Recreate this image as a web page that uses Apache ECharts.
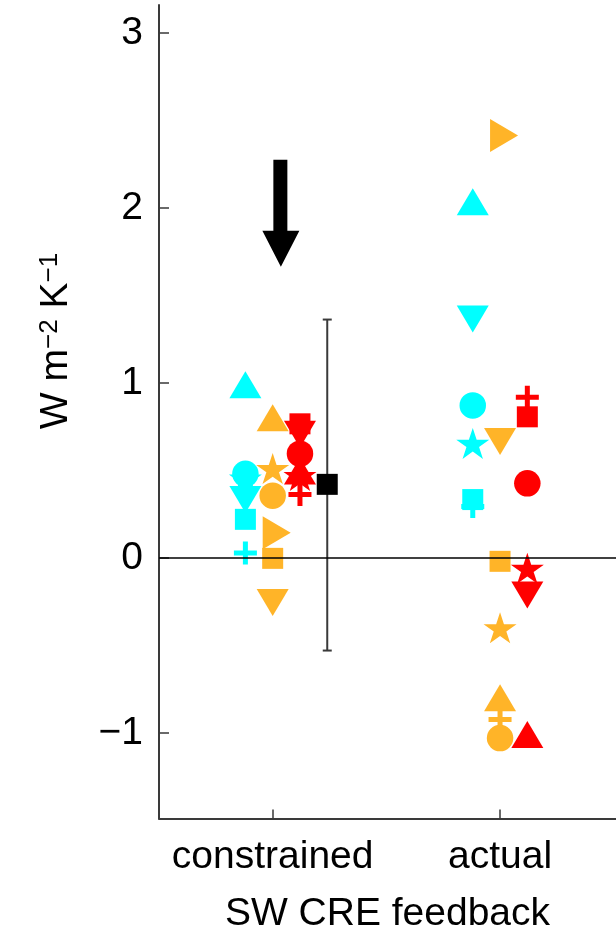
<!DOCTYPE html>
<html><head><meta charset="utf-8">
<script src="https://cdn.jsdelivr.net/npm/echarts@6/dist/echarts.min.js"></script>
<style>html,body{margin:0;padding:0;background:#fff}#c{width:616px;height:929px}</style>
</head><body><div id="c"></div>
<script>
// ---- data ----
const categories = ['constrained', 'actual'];
const yTickValues = [-1, 0, 1, 2, 3];
const shapeNames = ['plus', 'star', 'square', 'triangleDown', 'triangleUp', 'triangleRight', 'circle'];
// values per shape (same order as shapeNames); null = not shown
const cyanConstrained   = [0.027, 0.455, 0.22, 0.334, 0.99, null, 0.48];
const cyanActual        = [0.294, 0.654, 0.333, 1.365, 2.036, null, 0.871];
const orangeConstrained = [null, 0.51, -0.003, -0.255, 0.80, 0.144, 0.355];
const orangeActual      = [-0.924, -0.40, -0.02, 0.665, -0.80, 2.414, -1.03];
const redConstrained    = [0.362, 0.47, 0.766, 0.707, 0.497, null, 0.595];
const redActual         = [0.918, -0.06, 0.806, -0.212, -1.01, null, 0.426];
const ensembleMean = 0.42;
const ensembleLow = -0.53;
const ensembleHigh = 1.362;
const arrowValue = 1.97;

// ---- layout / style ----
const groupColors = ['#00FFFF', '#FFB428', '#FF0000'];
const groupOffsets = [-0.12, 0, 0.12];
const meanX = 1.24;
const arrowX = 1.036;
const FONT = '"Liberation Sans", Arial, Helvetica, sans-serif';
const AX = '#3a3a3a';

function starPath() {
  let d = '';
  for (let k = 0; k < 10; k++) {
    const a = (-90 + k * 36) * Math.PI / 180;
    const r = k % 2 ? 0.382 : 1;
    const x = (r * Math.cos(a) * 100).toFixed(2), y = (r * Math.sin(a) * 100).toFixed(2);
    d += (k === 0 ? 'M' : 'L') + x + ',' + y + ' ';
  }
  return 'path://' + d + 'Z';
}
const plusPath = 'path://M9,0 L14,0 L14,9 L23,9 L23,14 L14,14 L14,23 L9,23 L9,14 L0,14 L0,9 L9,9 Z';
const arrowPath = 'path://M11,0 L25,0 L25,71 L37,71 L18.5,107 L0,71 L11,71 Z';

const shapeStyles = {
  plus: { symbol: plusPath, size: 23, rotate: 0, offset: [0, 0] },
  star: { symbol: starPath(), size: [33, 31], rotate: 0, offset: [0, 0] },
  square: { symbol: 'rect', size: 21, rotate: 0, offset: [0, 0] },
  triangleDown: { symbol: 'triangle', size: [32, 27], rotate: 180, offset: [0, 0] },
  triangleUp: { symbol: 'triangle', size: [32, 27], rotate: 0, offset: [0, 0] },
  triangleRight: { symbol: 'triangle', size: [33, 28], rotate: -90, offset: [4, 0] },
  circle: { symbol: 'circle', size: 26.5, rotate: 0, offset: [0, 0] }
};

const groups = [
  [cyanConstrained, cyanActual],
  [orangeConstrained, orangeActual],
  [redConstrained, redActual]
];

const markerSeries = shapeNames.map((name, si) => {
  const st = shapeStyles[name];
  const data = [];
  groups.forEach((g, gi) => {
    g.forEach((arr, ci) => {
      const v = arr[si];
      if (v === null || v === undefined) return;
      data.push({ value: [ci + 1 + groupOffsets[gi], v], itemStyle: { color: groupColors[gi], opacity: 1 } });
    });
  });
  return {
    type: 'scatter', name: name, data: data,
    symbol: st.symbol, symbolSize: st.size, symbolRotate: st.rotate, symbolOffset: st.offset,
    itemStyle: { opacity: 1 },
    silent: true, z: 2
  };
});

const chart = echarts.init(document.getElementById('c'));
chart.setOption({
  animation: false,
  backgroundColor: '#fff',
  grid: { left: 159, right: 0, top: 5, bottom: 110.5, containLabel: false, outerBoundsMode: 'none' },
  xAxis: {
    type: 'value', min: 0.5, max: 2.51,
    name: 'SW CRE feedback', nameLocation: 'middle', nameGap: 76,
    nameTextStyle: { fontSize: 39, fontFamily: FONT, color: '#000' },
    axisLine: { show: true, onZero: false, lineStyle: { color: AX, width: 2 } },
    axisTick: { show: true, inside: true, length: 9, customValues: categories.map((c, i) => i + 1), lineStyle: { color: AX, width: 1.5 } },
    axisLabel: { customValues: categories.map((c, i) => i + 1), margin: 19, fontSize: 39, fontFamily: FONT, color: '#000',
      formatter: v => categories[Math.round(v) - 1] || '' },
    splitLine: { show: false }
  },
  yAxis: {
    type: 'value', min: -1.49, max: 3.16,
    axisLine: { show: true, onZero: false, lineStyle: { color: AX, width: 2 } },
    axisTick: { show: true, inside: true, length: 10, customValues: yTickValues, lineStyle: { color: AX, width: 1.5 } },
    axisLabel: { customValues: yTickValues, margin: 16, fontSize: 39, fontFamily: FONT, color: '#000',
      formatter: v => String(v).replace('-', '\u2212') },
    splitLine: { show: false }
  },
  graphic: [{
    type: 'text', x: 56, y: 341, rotation: Math.PI / 2,
    style: {
      text: '{m|W m}{s|\u22122}{m| K}{s|\u22121}',
      align: 'center', verticalAlign: 'middle',
      rich: {
        m: { fontSize: 39, lineHeight: 39, fontFamily: FONT, fill: '#000' },
        s: { fontSize: 26, lineHeight: 24, verticalAlign: 'top', fontFamily: FONT, fill: '#000' }
      }
    }
  }],
  series: [
    {
      type: 'custom', silent: true, z: 1,
      data: [[meanX, ensembleLow, ensembleHigh]],
      encode: { x: 0, y: [1, 2] },
      renderItem: function (params, api) {
        const x = api.value(0);
        const pLo = api.coord([x, api.value(1)]);
        const pHi = api.coord([x, api.value(2)]);
        const w = 4.5;
        const ls = { stroke: AX, lineWidth: 2 };
        return { type: 'group', children: [
          { type: 'line', shape: { x1: pLo[0], y1: pLo[1], x2: pHi[0], y2: pHi[1] }, style: ls },
          { type: 'line', shape: { x1: pLo[0] - w, y1: pLo[1], x2: pLo[0] + w, y2: pLo[1] }, style: ls },
          { type: 'line', shape: { x1: pHi[0] - w, y1: pHi[1], x2: pHi[0] + w, y2: pHi[1] }, style: ls }
        ] };
      }
    },
    {
      type: 'scatter', silent: true, z: 3,
      data: [[meanX, ensembleMean]], symbol: 'rect', symbolSize: 21,
      itemStyle: { color: '#000', opacity: 1 }
    },
    {
      type: 'scatter', silent: true, z: 3,
      data: [[arrowX, arrowValue]], symbol: arrowPath, symbolSize: [37, 107],
      itemStyle: { color: '#000', opacity: 1 },
      markLine: {
        silent: true, symbol: 'none', label: { show: false },
        lineStyle: { color: '#000', width: 1.5, type: 'solid', opacity: 1 },
        data: [{ yAxis: 0 }]
      }
    }
  ].concat(markerSeries)
});
</script>
</body></html>
